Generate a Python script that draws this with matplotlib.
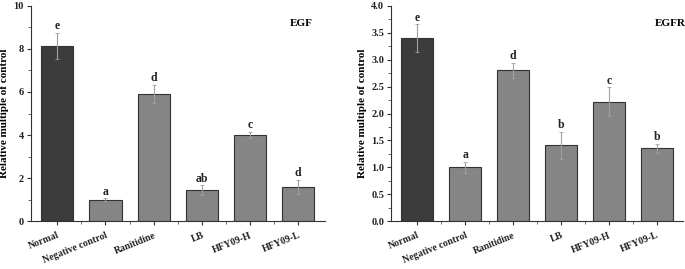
import matplotlib
matplotlib.use("Agg")
import matplotlib.pyplot as plt
import numpy as np

groups = ["Normal", "Negative control", "Ranitidine", "LB", "HFY09-H", "HFY09-L"]

egf = [8.15, 1.0, 5.9, 1.45, 4.0, 1.6]
egf_err = [0.6, 0.06, 0.42, 0.22, 0.14, 0.32]
egf_letters = ["e", "a", "d", "ab", "c", "d"]

egfr = [3.4, 1.0, 2.8, 1.41, 2.22, 1.35]
egfr_err = [0.26, 0.1, 0.14, 0.25, 0.27, 0.09]
egfr_letters = ["e", "a", "d", "b", "c", "b"]

plt.rcParams["font.family"] = "Liberation Serif"
plt.rcParams["font.weight"] = "bold"

fig = plt.figure(figsize=(6.85, 2.69), dpi=100)
ax1 = fig.add_axes([0.045, 0.178, 0.429, 0.8])
ax2 = fig.add_axes([0.571, 0.178, 0.426, 0.8])

colors = ["#3c3c3c"] + ["#858585"] * 5
x = np.arange(1, 7)


def draw(ax, vals, errs, letters, ymax, major, minor, fmt, name):
    ax.bar(x, vals, width=0.67, color=colors, edgecolor="#333333", linewidth=0.8, zorder=2)
    ax.errorbar(x, vals, yerr=errs, fmt="none", ecolor="#a0a0a0", elinewidth=0.8,
                capsize=1.5, capthick=0.6, zorder=3)
    for xi, v, e, t in zip(x, vals, errs, letters):
        ax.text(xi, v + e + ymax * 0.003, t, ha="center", va="bottom",
                fontsize=8.5, fontweight="bold", color="#222222")
    ax.set_xlim(0.45, 6.55)
    ax.set_ylim(0, ymax)
    ax.set_yticks(np.arange(0, ymax + 0.001, major))
    ax.set_yticks(np.arange(minor, ymax, major), minor=True)
    ax.set_yticklabels([fmt.format(v) for v in np.arange(0, ymax + 0.001, major)],
                       fontsize=7.5, fontweight="bold")
    ax.set_xticks(x)
    ax.set_xticks(x[:-1] + 0.5, minor=True)
    ax.set_xticklabels(groups, rotation=22, ha="right", rotation_mode="anchor",
                       fontsize=7, fontweight="bold")
    ax.tick_params(axis="both", which="major", direction="out", length=3, width=0.8,
                   colors="#333333", labelcolor="#222222", pad=2)
    ax.tick_params(axis="both", which="minor", direction="out", length=2, width=0.6,
                   colors="#555555")
    ax.tick_params(axis="x", which="major", pad=4)
    for s in ["top", "right"]:
        ax.spines[s].set_visible(False)
    ax.spines["left"].set_color("#333333")
    ax.spines["bottom"].set_color("#333333")
    ax.set_ylabel("Relative multiple of control", fontsize=8, fontweight="bold", labelpad=3)
    ax.text(0.96, 0.92, name, transform=ax.transAxes, ha="right", va="center",
            fontsize=8, fontweight="bold")


draw(ax1, egf, egf_err, egf_letters, 10, 2, 1, "{:.0f}", "EGF")
draw(ax2, egfr, egfr_err, egfr_letters, 4.0, 0.5, 0.25, "{:.1f}", "EGFR")
ax2.texts[-1].set_position((1.01, 0.92))

fig.savefig("out.png", dpi=100)
